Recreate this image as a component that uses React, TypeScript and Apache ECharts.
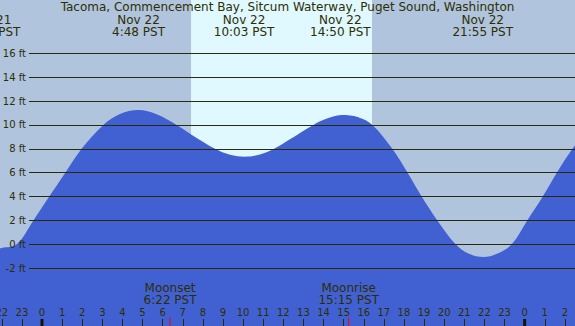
import React, { useEffect, useRef } from "react";
import * as echarts from "echarts";

const chartTitle = "Tacoma, Commencement Bay, Sitcum Waterway, Puget Sound, Washington";

// Tide curve (hours relative to Nov 22 00:00 PST, height in ft)
const tideHours = [-3.2, -2.58, -2.0, -1.26, -0.43, 0.36, 1.16, 1.97, 3.05, 3.88, 4.79, 5.7, 6.7, 7.69, 8.6, 9.35, 10.09, 10.84, 11.54, 12.33, 13.49, 14.07, 14.9, 15.73, 16.43, 17.42, 18.18, 18.88, 19.66, 20.57, 21.2, 21.95, 22.69, 23.36, 24.13, 24.9, 25.6, 26.38, 27.0];
const tideFeet = [-0.3, -0.42, -0.3, 0, 2, 4, 6, 8, 10, 10.91, 11.24, 10.9, 10, 8.9, 8, 7.5, 7.34, 7.52, 8, 8.8, 10, 10.47, 10.83, 10.65, 10, 8, 6, 4, 2, 0, -0.78, -1.06, -0.75, 0, 2, 4, 6, 8, 9.3];

// High / low tide events
const tideEventHours = [-2.58, 4.8, 10.05, 14.833, 21.917];
const tideEventDates = ["Nov 21", "Nov 22", "Nov 22", "Nov 22", "Nov 22"];
const tideEventTimes = ["21:25 PST", "4:48 PST", "10:03 PST", "14:50 PST", "21:55 PST"];

// Sun
const sunriseHour = 7.41;
const sunsetHour = 16.41;

// Moon events
const moonEventHours = [6.367, 15.25];
const moonEventNames = ["Moonset", "Moonrise"];
const moonEventTimes = ["6:22 PST", "15:15 PST"];

// Midnights
const midnightHours = [0, 24];

// Y tick labels
const yTickMin = -2;
const yTickMax = 16;
const yTickStep = 2;

const FONT = "DejaVu Sans";
const TEXT = "#2e2e00";
const LINE = "#2a2a08";
const NIGHT = "#b0c4de";
const DAY = "#e0f8ff";
const WATER = "#4161d3";

export default function App() {
  const ref = useRef<HTMLDivElement>(null);
  useEffect(() => {
    document.body.style.margin = "0";
    const chart = echarts.init(ref.current!, null, { renderer: "svg" });
    const pxPerFt = 11.94;
    const zeroY = 244.3;
    const H = 326;
    const option: any = {
      animation: false,
      backgroundColor: NIGHT,
      title: {
        text: chartTitle,
        left: "center",
        top: 1,
        padding: 0,
        textStyle: { fontFamily: FONT, fontSize: 12, fontWeight: "normal", color: TEXT },
      },
      grid: [
        { left: -18.33, right: -9.97, top: 0, bottom: 0, containLabel: false, outerBoundsMode: "none" },
        { left: 29, right: 0, top: zeroY - yTickMax * pxPerFt, bottom: H - (zeroY - yTickMin * pxPerFt), containLabel: false, outerBoundsMode: "none" },
      ],
      xAxis: [
        {
          type: "value",
          gridIndex: 0,
          min: -3,
          max: 27,
          interval: 1,
          position: "bottom",
          axisLine: { show: false, onZero: false },
          splitLine: { show: false },
          axisTick: { show: true, inside: true, length: 7, lineStyle: { color: LINE, width: 1 } },
          axisLabel: {
            show: true,
            inside: true,
            margin: 9,
            fontFamily: FONT,
            fontSize: 10,
            color: TEXT,
            showMinLabel: true,
            showMaxLabel: true,
            formatter: (v: number) => String(((Math.round(v) % 24) + 24) % 24),
          },
          z: 4,
        },
        { type: "value", gridIndex: 1, min: 0, max: 1, show: false },
      ],
      yAxis: [
        { type: "value", gridIndex: 0, min: -(H - zeroY) / pxPerFt, max: zeroY / pxPerFt, show: false },
        {
          type: "value",
          gridIndex: 1,
          min: yTickMin,
          max: yTickMax,
          interval: yTickStep,
          axisLine: { show: false },
          axisTick: { show: false },
          axisLabel: { margin: 3, fontFamily: FONT, fontSize: 10, color: TEXT, formatter: "{value} ft" },
          splitLine: { show: true, lineStyle: { color: LINE, width: 1 } },
          z: 3,
        },
      ],
      series: [
        {
          name: "daylight",
          type: "line",
          xAxisIndex: 0,
          yAxisIndex: 0,
          data: [[sunriseHour, -6], [sunsetHour, -6]],
          symbol: "none",
          lineStyle: { opacity: 0 },
          silent: true,
          z: 1,
          markArea: {
            silent: true,
            itemStyle: { color: DAY },
            data: [[{ xAxis: sunriseHour }, { xAxis: sunsetHour }]],
          },
        },
        {
          name: "tide",
          type: "line",
          xAxisIndex: 0,
          yAxisIndex: 0,
          data: tideHours.map((h, i) => [h, tideFeet[i]]),
          smooth: 0.35,
          symbol: "none",
          lineStyle: { width: 0, color: WATER },
          areaStyle: { color: WATER, opacity: 1, origin: "start" },
          z: 2,
        },
        {
          name: "midnight",
          type: "custom",
          xAxisIndex: 0,
          yAxisIndex: 0,
          clip: false,
          z: 5,
          data: midnightHours.map((h) => [h, 0]),
          renderItem: (params: any, api: any) => {
            const x = api.coord([api.value(0), 0])[0];
            return { type: "rect", shape: { x: x - 1.5, y: 319, width: 3, height: 7 }, style: { fill: "#141400" } };
          },
        },
        {
          name: "moon",
          type: "custom",
          xAxisIndex: 0,
          yAxisIndex: 0,
          clip: false,
          z: 5,
          data: moonEventHours.map((h) => [h, 0]),
          renderItem: (params: any, api: any) => {
            const x = api.coord([api.value(0), 0])[0];
            const i = params.dataIndex;
            return {
              type: "group",
              children: [
                { type: "line", shape: { x1: x, y1: 317.5, x2: x, y2: 326 }, style: { stroke: "#ff0000", lineWidth: 1 } },
                { type: "text", x, y: 287.5, style: { text: moonEventNames[i], fontFamily: FONT, fontSize: 12, fill: TEXT, align: "center", verticalAlign: "middle" } },
                { type: "text", x, y: 299.5, style: { text: moonEventTimes[i], fontFamily: FONT, fontSize: 12, fill: TEXT, align: "center", verticalAlign: "middle" } },
              ],
            };
          },
        },
        {
          name: "tideEvents",
          type: "custom",
          xAxisIndex: 0,
          yAxisIndex: 0,
          clip: false,
          z: 5,
          data: tideEventHours.map((h) => [h, 0]),
          renderItem: (params: any, api: any) => {
            const x = api.coord([api.value(0), 0])[0];
            const i = params.dataIndex;
            return {
              type: "group",
              children: [
                { type: "text", x, y: 19.5, style: { text: tideEventDates[i], fontFamily: FONT, fontSize: 12, fill: TEXT, align: "center", verticalAlign: "middle" } },
                { type: "text", x, y: 31.5, style: { text: tideEventTimes[i], fontFamily: FONT, fontSize: 12, fill: TEXT, align: "center", verticalAlign: "middle" } },
              ],
            };
          },
        },
      ],
    };
    chart.setOption(option);
    return () => chart.dispose();
  }, []);
  return <div ref={ref} style={{ width: 575, height: 326 }} />;
}
